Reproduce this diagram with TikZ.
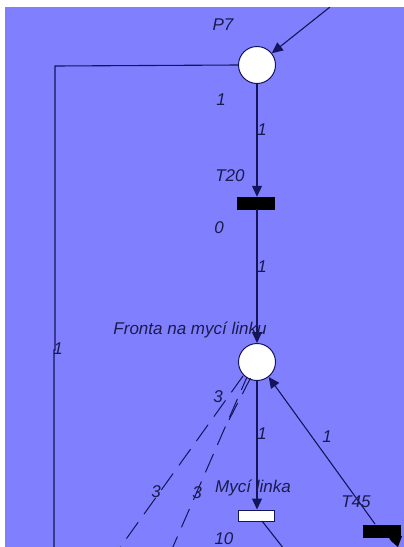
\documentclass[tikz,border=0pt]{standalone}
\usepackage{fontspec}
\setmainfont{Liberation Sans}
\usetikzlibrary{arrows.meta}
\definecolor{bg}{RGB}{128,128,255}
\definecolor{ink}{RGB}{20,20,90}
\definecolor{txt}{RGB}{26,26,78}
\tikzset{
  arc/.style={draw=ink, line width=1.1pt},
  arr/.style={arc, -{Triangle[length=11pt,width=10pt]}},
  place/.style={circle, draw=ink, line width=1pt, fill=white, minimum size=37pt, inner sep=0pt},
  blacktr/.style={rectangle, draw=black, fill=black, minimum width=37pt, minimum height=12pt, inner sep=0pt},
  whitetr/.style={rectangle, draw=ink, line width=1pt, fill=white, minimum width=36pt, minimum height=11pt, inner sep=0pt},
  lbl/.style={text=txt, font=\fontsize{17}{19}\selectfont\itshape, inner sep=0pt},
  dsh/.style={draw=ink, line width=1pt, dash pattern=on 20pt off 10pt}
}
\begin{document}
\begin{tikzpicture}[x=1pt,y=-1pt]
\useasboundingbox (0,0) rectangle (404,547);
\fill[white] (0,0) rectangle (404,547);
\fill[bg] (5,7) rectangle (404,547);
\begin{scope}
\clip (5,7) rectangle (404,547);
% nodes
\node[place] (P7) at (257,65) {};
\node[blacktr] (T20) at (255.5,203) {};
\node[place] (FR) at (257,362) {};
\node[whitetr] (MY) at (256,515.5) {};
\node[blacktr] (T45) at (381.5,531) {};
\fill[black] (388,536) -- (402,536) -- (398,547) -- (391,541) -- cycle;
% coordinates
\coordinate (top) at (330,7);
\coordinate (c1) at (55,66);
\coordinate (c2) at (55,350);
\coordinate (c3) at (54,350);
\coordinate (c4) at (54,550);
\coordinate (d1) at (119,549);
\coordinate (d2) at (172,549);
\coordinate (d3) at (229,420);
\coordinate (s1) at (243,376);
\coordinate (s2) at (247,377);
\coordinate (s3) at (250.5,378);
\coordinate (m1) at (262,521);
\coordinate (m2) at (284,549);
\coordinate (t45top) at (375,524);
% arcs
\draw[arr] (top) -- (P7);
\draw[arc] (P7.west) -- (c1) -- (c2) -- (c3) -- (c4);
\draw[arr] (P7.south) -- (P7.south |- T20.north);
\draw[arr] (P7.south |- T20.south) -- (FR.north);
\draw[arr] (FR.south) -- (FR.south |- MY.north);
\draw[arr] (t45top) -- (FR.-52);
\draw[arc] (m1) -- (m2);
\draw[dsh] (s1) -- (d1);
\draw[dsh, dash phase=6pt] (s2) -- (d2);
\draw[dsh, dash phase=2pt] (s3) -- (d3);
% labels
\node[lbl] (lP7) at (223,25) {P7};
\node[lbl] (l1a) at (221,100) {1};
\node[lbl] (l1b) at (262,130) {1};
\node[lbl] (lT20) at (230,176) {T20};
\node[lbl] (l0) at (219,228) {0};
\node[lbl] (l1c) at (262,267) {1};
\node[lbl] (lFR) at (190,330) {Fronta na mycí linku};
\node[lbl] (l1left) at (58,349) {1};
\node[lbl] (l3a) at (218,397) {3};
\node[lbl] (l1d) at (262,434) {1};
\node[lbl] (l1e) at (327,437) {1};
\node[lbl] (lMY) at (253,488) {Mycí linka};
\node[lbl] (lT45) at (356,502) {T45};
\node[lbl] (l3b) at (156,492) {3};
\node[lbl] (l3c) at (197,493) {3};
\node[lbl] (l10) at (224,539) {10};
\end{scope}
\end{tikzpicture}
\end{document}
